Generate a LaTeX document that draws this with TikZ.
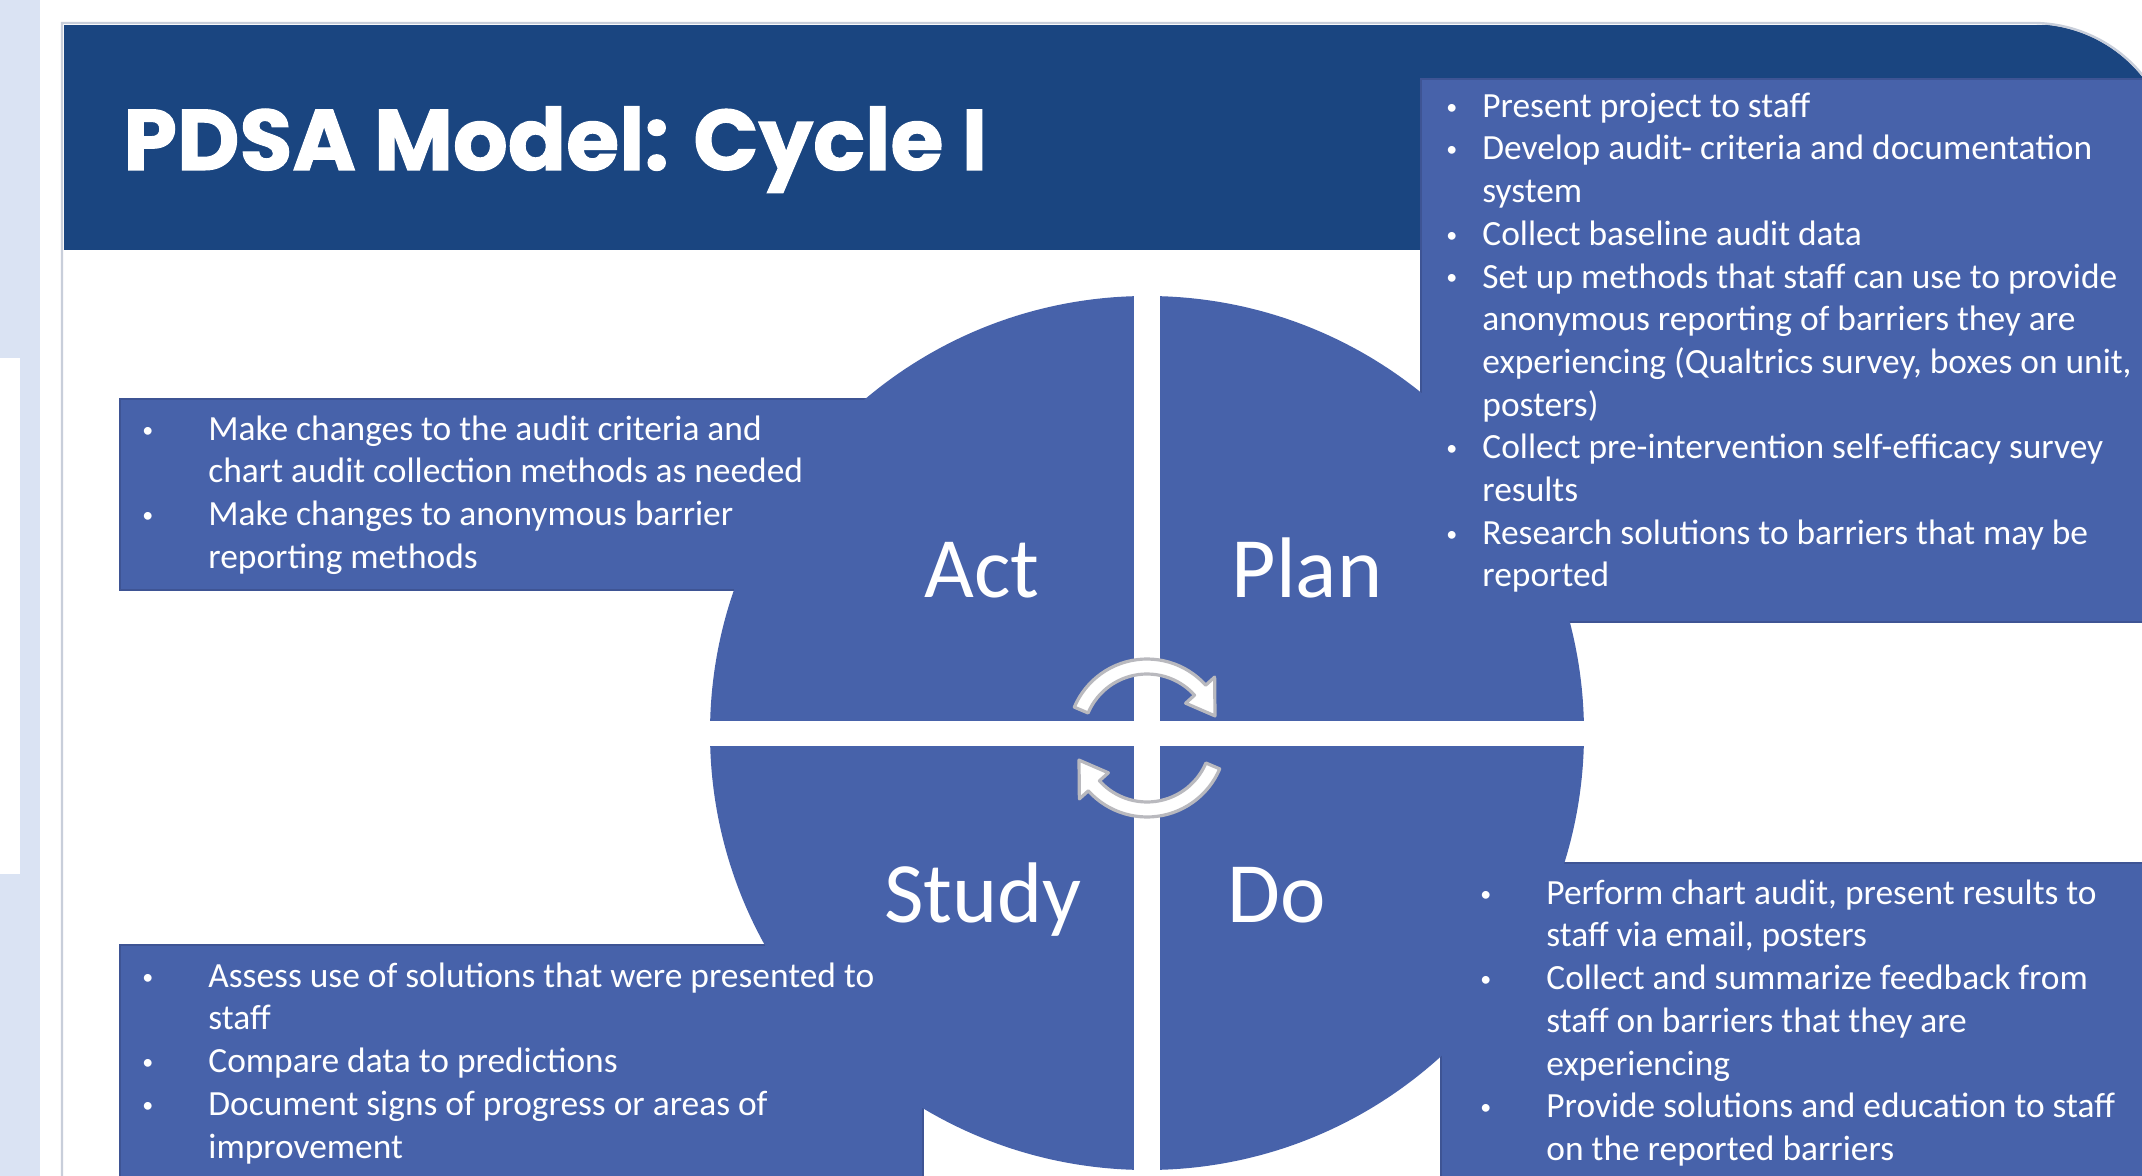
\documentclass[tikz,border=0pt]{standalone}
\usepackage{fontspec}
\setmainfont{Carlito}
\newfontfamily\titlefont{Poppins}[BoldFeatures={FakeBold=1.2}]

\definecolor{hdrblue}{RGB}{26,69,128}
\definecolor{pdsablue}{RGB}{71,98,170}
\definecolor{boxedge}{RGB}{62,84,148}
\definecolor{striplight}{RGB}{218,227,243}
\definecolor{framegray}{RGB}{200,206,218}
\definecolor{arrowgray}{RGB}{185,185,190}

\newlength\bulletw
\newcommand\bul[1]{\makebox[\bulletw][l]{\strut\hspace*{1.5pt}\raisebox{1.6pt}{\scalebox{0.62}{\textbullet}}}#1}
\newcommand\cont[1]{\hspace*{\bulletw}\strut#1}

\begin{document}
\begin{tikzpicture}[x=0.5pt,y=-0.5pt,
  stepbox/.style={fill=pdsablue, draw=boxedge, line width=0.8pt},
  quadlabel/.style={text=white, font=\fontsize{43}{50}\selectfont, inner sep=0pt, anchor=base},
  bulletlist/.style={text=white, inner sep=0pt, anchor=north west, align=left,
    font={\fontsize{17.7}{21.35}\selectfont\setlength{\bulletw}{#1}}},
  cyclearrow/.style={fill=white, draw=arrowgray, line width=1.6pt, line join=round}]

\useasboundingbox (0,0) rectangle (2142,1176);
\clip (0,0) rectangle (2142,1176);
\fill[white] (0,0) rectangle (2142,1176);

% page strip on the left
\fill[striplight] (0,0) rectangle (40,1176);
\fill[white] (0,358) rectangle (20,874);

% slide header band
\fill[hdrblue] (64,25) rectangle (2150,250);

% text panels
\path[stepbox] (1421,79) rectangle (2160,622);
\path[stepbox] (120,399) rectangle (923,590);
\path[stepbox] (120,945) rectangle (923,1190);
\path[stepbox] (1441,863) rectangle (2160,1190);

% rounded top-right corner of the slide
\fill[white] (2033,24) arc[start angle=90, end angle=38.9, radius=70pt] -- (2150,76) -- (2150,0) -- (2033,0) -- cycle;
\draw[framegray, line width=1.2pt] (62,1180) -- (62,23) -- (2033,23) arc[start angle=90, end angle=38.9, radius=70.5pt];

% PDSA wheel split into four quarters
\fill[pdsablue] (1147,733) circle[radius=218.5pt];
\fill[white] (1134,280) rectangle (1160,1180);
\fill[white] (690,721) rectangle (1600,746);

% circular arrows at the hub
\begin{scope}[shift={(1147,738)}]
  \path[cyclearrow] plot[domain=157:42, samples=30] (\x:39.5pt) -- (42:45.5pt) -- (18:35.75pt)
    -- (42:26pt) -- (42:32pt) -- plot[domain=42:157, samples=30] (\x:32pt) -- cycle;
  \path[cyclearrow] plot[domain=337:222, samples=30] (\x:39.5pt) -- (222:45.5pt) -- (198:35.75pt)
    -- (222:26pt) -- (222:32pt) -- plot[domain=222:337, samples=30] (\x:32pt) -- cycle;
\end{scope}

% quarter labels
\node[quadlabel] (act) at (982,597) {Act};
\node[quadlabel] (plan) at (1307,597) {Plan};
\node[quadlabel] (study) at (983,922) {Study};
\node[quadlabel] (do) at (1277,922) {Do};

% title
\node[text=white, inner sep=0pt, anchor=base west] (title) at (123,170)
  {\titlefont\bfseries\fontsize{43}{50}\selectfont PDSA Model: Cycle I};

% step details
\node[bulletlist=19.5pt] (plantext) at (1443,87) {%
\bul{Present project to staff}\\
\bul{Develop audit- criteria and documentation}\\
\cont{system}\\
\bul{Collect baseline audit data}\\
\bul{Set up methods that staff can use to provide}\\
\cont{anonymous reporting of barriers they are}\\
\cont{experiencing (Qualtrics survey, boxes on unit,}\\
\cont{posters)}\\
\bul{Collect pre-intervention self-efficacy survey}\\
\cont{results}\\
\bul{Research solutions to barriers that may be}\\
\cont{reported}};

\node[bulletlist=34.5pt] (acttext) at (139,410) {%
\bul{Make changes to the audit criteria and}\\
\cont{chart audit collection methods as needed}\\
\bul{Make changes to anonymous barrier}\\
\cont{reporting methods}};

\node[bulletlist=34.5pt] (studytext) at (139,957) {%
\bul{Assess use of solutions that were presented to}\\
\cont{staff}\\
\bul{Compare data to predictions}\\
\bul{Document signs of progress or areas of}\\
\cont{improvement}};

\node[bulletlist=34.5pt] (dotext) at (1477,874) {%
\bul{Perform chart audit, present results to}\\
\cont{staff via email, posters}\\
\bul{Collect and summarize feedback from}\\
\cont{staff on barriers that they are}\\
\cont{experiencing}\\
\bul{Provide solutions and education to staff}\\
\cont{on the reported barriers}};
\end{tikzpicture}
\end{document}
